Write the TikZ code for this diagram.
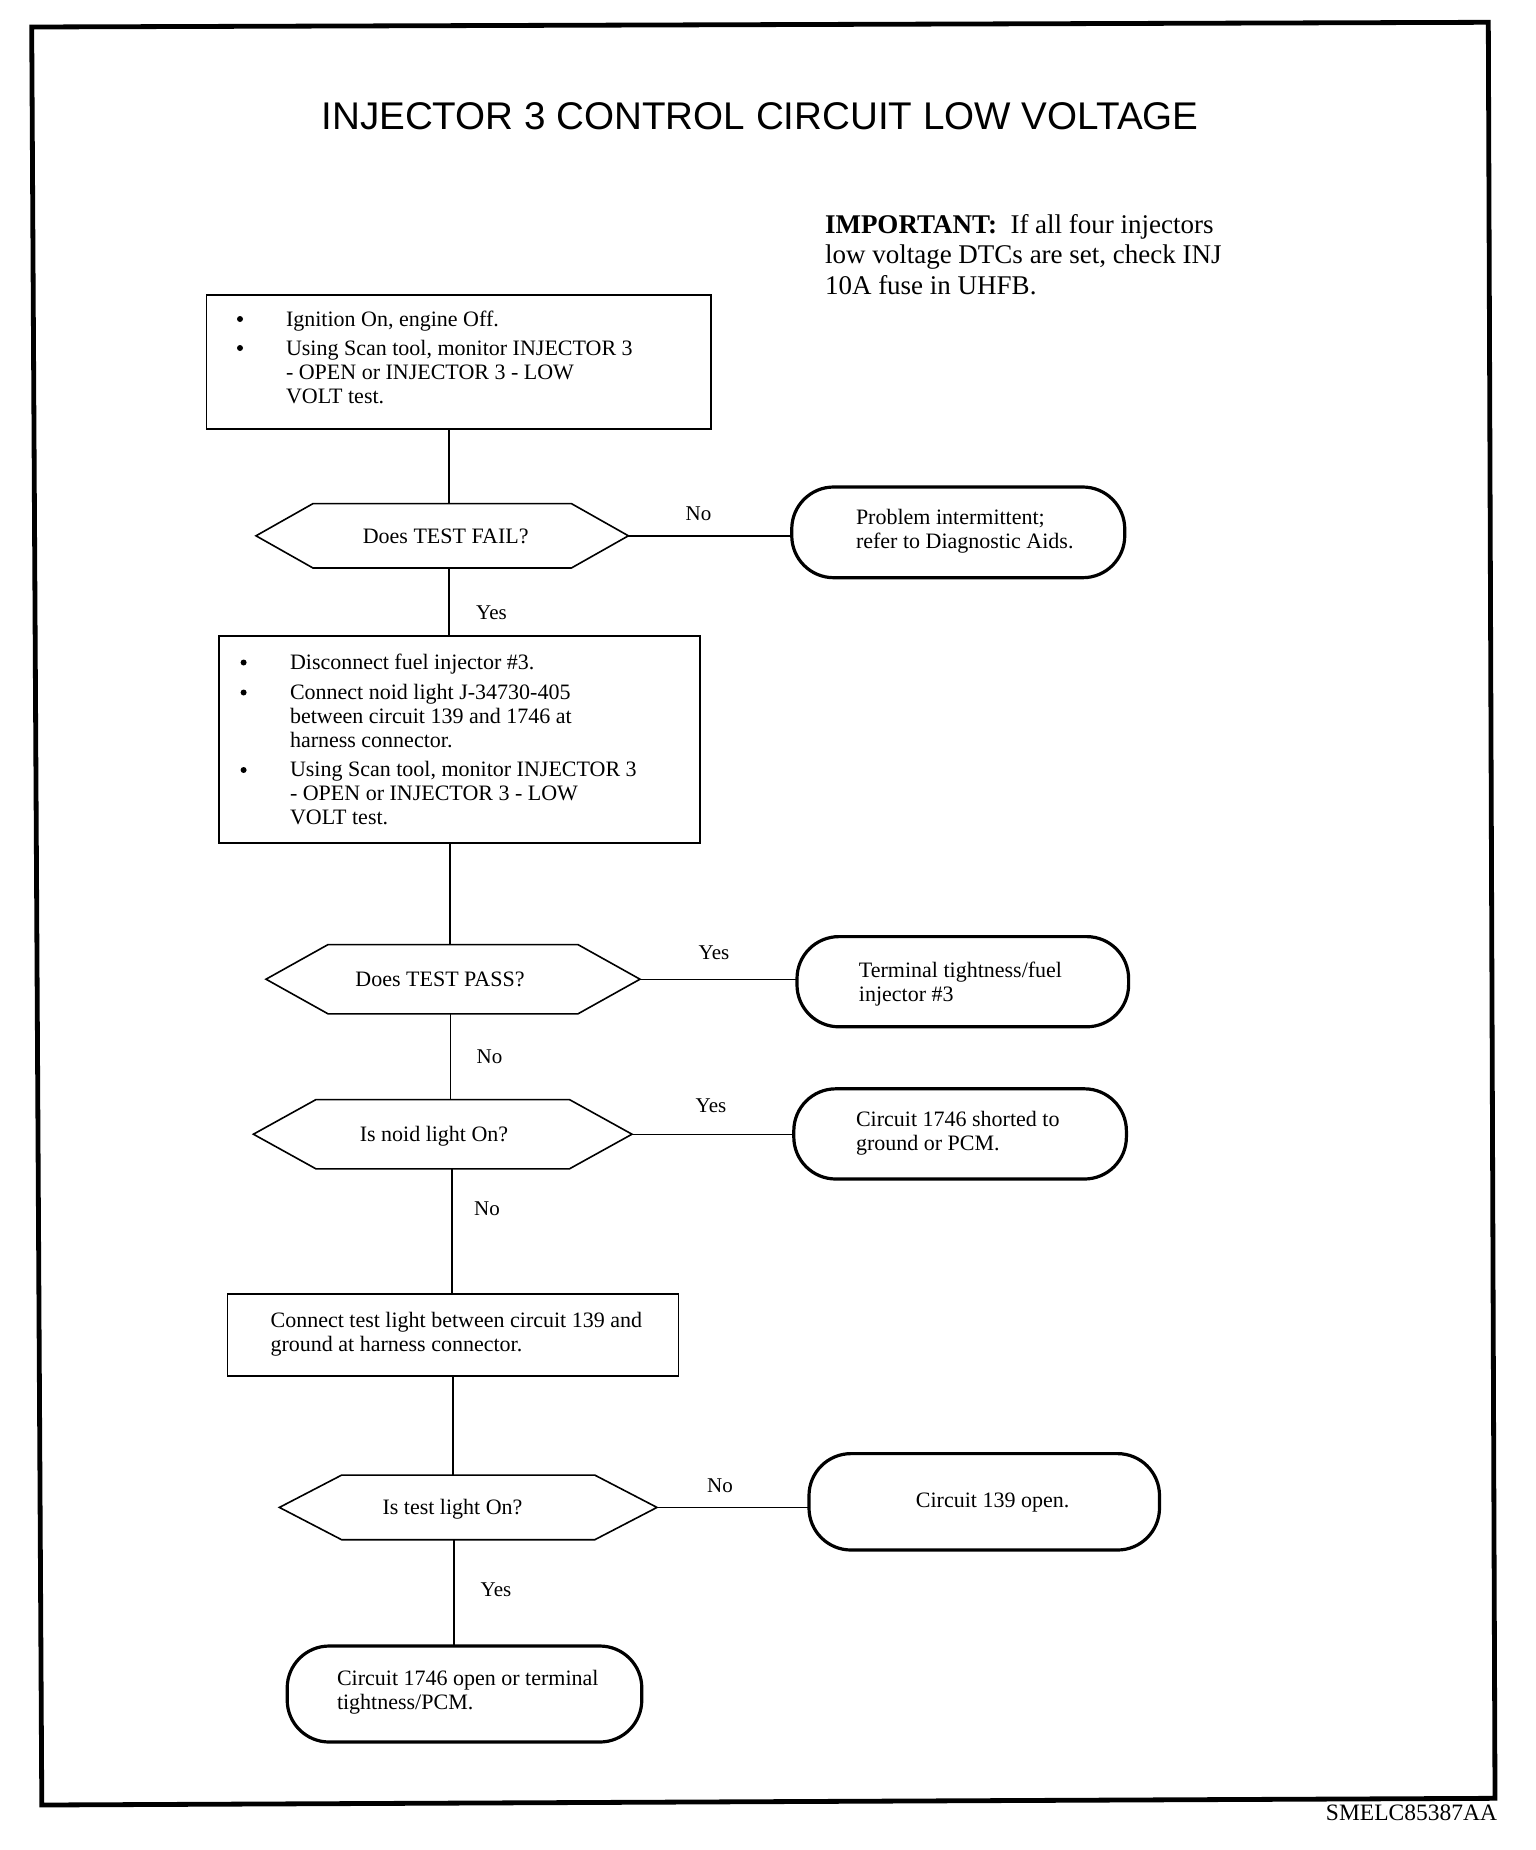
\documentclass[tikz,border=0pt]{standalone}
\usepackage{fontspec}
\setmainfont{Liberation Serif}
\newfontfamily\titlefont{Liberation Sans}
\usetikzlibrary{calc}
\newcommand\hexdraw[2]{\draw[hexline] (#1.west) -- ($(#1.north west)+(#2,0)$) -- ($(#1.north east)-(#2,0)$) -- (#1.east) -- ($(#1.south east)-(#2,0)$) -- ($(#1.south west)+(#2,0)$) -- cycle;}
\begin{document}
\begin{tikzpicture}[x=1pt,y=-1pt,
  every node/.style={inner sep=0pt, outer sep=0pt},
  boxnode/.style={draw, line width=1.6pt, rectangle},
  hexnode/.style={font=\fontsize{22}{24}\selectfont, text height=14.6pt, text depth=0pt},
  term/.style={draw, line width=3.2pt, rounded corners=42pt, rectangle},
  txt/.style={font=\fontsize{22}{24}\selectfont, anchor=base west},
  bul/.style={circle, fill, minimum size=6pt},
  lbl/.style={font=\fontsize{21}{24}\selectfont, text height=14pt, text depth=0pt},
  conn/.style={line width=1.4pt},
  hexline/.style={line width=1.6pt, line join=miter},
]
\useasboundingbox (0,0) rectangle (1536,1850);
\fill[white] (0,0) rectangle (1536,1850);

% frame
\coordinate (f1) at (31.7,27);
\coordinate (f2) at (1488.3,22.3);
\coordinate (f3) at (1495,1798.3);
\coordinate (f4) at (41.8,1805);
\draw[line width=4.8pt, line join=miter] (f1) -- (f2) -- (f3) -- (f4) -- cycle;

% title
\node[anchor=base, font=\titlefont\fontsize{38.6}{44}\selectfont] (title) at (760,129.3) {INJECTOR 3 CONTROL CIRCUIT LOW VOLTAGE};

% important note
\node[anchor=base west, font=\fontsize{27}{30.5}\selectfont] (imp) at (825,233.3)
  {\begin{tabular}[t]{@{}l@{}}\textbf{IMPORTANT:}\ \ If all four injectors\\low voltage DTCs are set, check INJ\\10A fuse in UHFB.\end{tabular}};

% box 1
\node[boxnode, minimum width=504.5pt, minimum height=134pt] (b1) at (458.75,362) {};
\node[bul] (b1bu1) at (240,319) {};
\node[txt] (b1tx1) at (286,326) {Ignition On, engine Off.};
\node[bul] (b1bu2) at (240,348) {};
\node[txt] (b1tx2) at (286,355) {\begin{tabular}[t]{@{}l@{}}Using Scan tool, monitor INJECTOR 3\\- OPEN or INJECTOR 3 - LOW\\VOLT test.\end{tabular}};

% decision 1
\node[hexnode, minimum width=372.4pt, minimum height=64.4pt] (d1) at (442.2,535.8) {\hspace*{7pt}Does TEST FAIL?};
\hexdraw{d1}{57}

% terminal 1
\node[term, minimum width=333pt, minimum height=90.7pt] (t1) at (958.25,532.35) {};
\node[txt] (t1tx) at (856,524) {\begin{tabular}[t]{@{}l@{}}Problem intermittent;\\refer to Diagnostic Aids.\end{tabular}};

% box 2
\node[boxnode, minimum width=481pt, minimum height=207pt] (b2) at (459.5,739.5) {};
\node[bul] (b2bu1) at (243.6,662.5) {};
\node[txt] (b2tx1) at (290,669) {Disconnect fuel injector \#3.};
\node[bul] (b2bu2) at (243.6,692.5) {};
\node[txt] (b2tx2) at (290,699) {\begin{tabular}[t]{@{}l@{}}Connect noid light J-34730-405\\between circuit 139 and 1746 at\\harness connector.\end{tabular}};
\node[bul] (b2bu3) at (243.6,770) {};
\node[txt] (b2tx3) at (290,776.5) {\begin{tabular}[t]{@{}l@{}}Using Scan tool, monitor INJECTOR 3\\- OPEN or INJECTOR 3 - LOW\\VOLT test.\end{tabular}};

% decision 2
\node[hexnode, minimum width=374pt, minimum height=69.2pt] (d2) at (453,979.2) {Does TEST PASS?\hspace*{26pt}};
\hexdraw{d2}{62}

% terminal 2
\node[term, minimum width=331.6pt, minimum height=90.2pt] (t2) at (962.8,981.7) {};
\node[txt] (t2tx) at (858.9,977.5) {\begin{tabular}[t]{@{}l@{}}Terminal tightness/fuel\\injector \#3\end{tabular}};

% decision 3
\node[hexnode, minimum width=378.6pt, minimum height=69.3pt] (d3) at (442.7,1134.2) {Is noid light On?\hspace*{17.4pt}};
\hexdraw{d3}{62.6}

% terminal 3
\node[term, minimum width=332.6pt, minimum height=90.2pt] (t3) at (960.1,1133.9) {};
\node[txt] (t3tx) at (856,1126.5) {\begin{tabular}[t]{@{}l@{}}Circuit 1746 shorted to\\ground or PCM.\end{tabular}};

% box 3
\node[boxnode, minimum width=451pt, minimum height=82.2pt] (b3) at (453,1334.9) {};
\node[txt] (b3tx) at (270.6,1327) {\begin{tabular}[t]{@{}l@{}}Connect test light between circuit 139 and\\ground at harness connector.\end{tabular}};

% decision 4
\node[hexnode, minimum width=377.6pt, minimum height=64.7pt] (d4) at (468.2,1507.4) {Is test light On?\hspace*{31.4pt}};
\hexdraw{d4}{62.3}

% terminal 4
\node[term, minimum width=350.5pt, minimum height=96.4pt] (t4) at (984.25,1501.8) {};
\node[anchor=base, font=\fontsize{22}{24}\selectfont] (t4tx) at (992.6,1507) {Circuit 139 open.};

% terminal 5
\node[term, minimum width=354.6pt, minimum height=96pt] (t5) at (464.5,1694) {};
\node[txt] (t5tx) at (337,1685.5) {\begin{tabular}[t]{@{}l@{}}Circuit 1746 open or terminal\\tightness/PCM.\end{tabular}};

% vertical connectors
\draw[conn] ([xshift=-9.75pt]b1.south) -- ([xshift=6.8pt]d1.north);
\draw[conn] ([xshift=6.8pt]d1.south) -- ([xshift=-10.5pt]b2.north);
\draw[conn] ([xshift=-9.5pt]b2.south) -- ([xshift=-3pt]d2.north);
\draw[conn] ([xshift=-2.5pt]d2.south) -- ([xshift=7.8pt]d3.north);
\draw[conn] ([xshift=9.3pt]d3.south) -- ([xshift=-1pt]b3.north);
\draw[conn] (b3.south) -- ([xshift=-15.2pt]d4.north);
\draw[conn] ([xshift=-14.2pt]d4.south) -- ([xshift=-10.5pt]t5.north);

% horizontal connectors
\draw[conn] (d1.east) -- (d1.east -| t1.west);
\draw[conn] (d2.east) -- (d2.east -| t2.west);
\draw[conn] (d3.east) -- (d3.east -| t3.west);
\draw[conn] (d4.east) -- (d4.east -| t4.west);

% labels
\node[lbl] (l1) at (698.5,513) {No};
\node[lbl] (l2) at (491.5,612.5) {Yes};
\node[lbl] (l3) at (714,952.7) {Yes};
\node[lbl] (l4) at (489.5,1056) {No};
\node[lbl] (l5) at (711,1105) {Yes};
\node[lbl] (l6) at (487,1208) {No};
\node[lbl] (l7) at (720,1485) {No};
\node[lbl] (l8) at (496,1589) {Yes};

% figure id
\node[anchor=base east, font=\fontsize{23.5}{26}\selectfont] (figid) at (1497,1820) {SMELC85387AA};
\end{tikzpicture}
\end{document}
